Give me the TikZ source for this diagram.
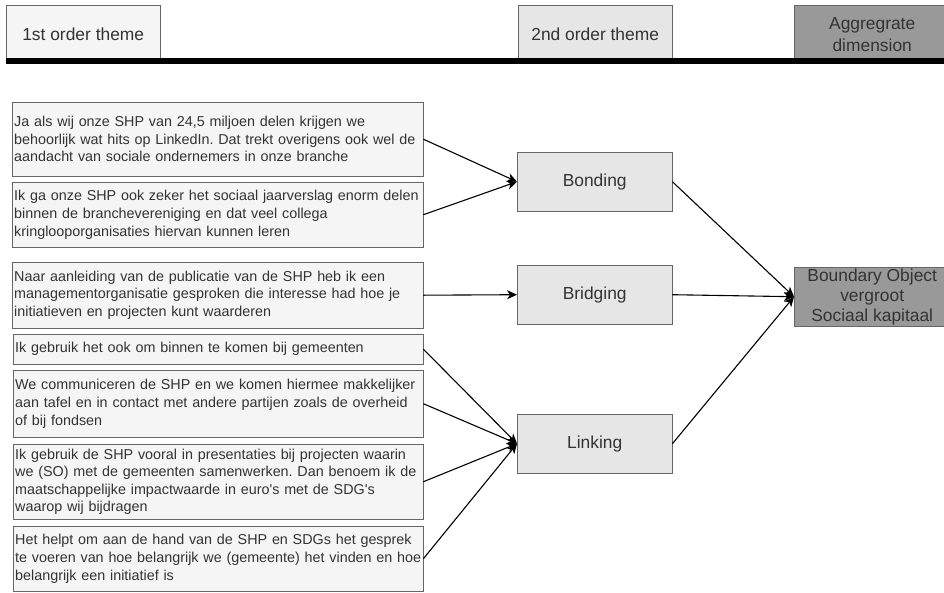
\documentclass[tikz,border=0pt]{standalone}
\usepackage{fontspec}
\setmainfont{Liberation Sans}
\usetikzlibrary{arrows.meta}
\frenchspacing
\definecolor{lightfill}{HTML}{F5F5F5}
\definecolor{midfill}{HTML}{E6E6E6}
\definecolor{darkfill}{HTML}{999999}
\definecolor{edgegray}{HTML}{666666}
\definecolor{inkgray}{HTML}{333333}
\begin{document}
\begin{tikzpicture}[x=1pt, y=-1pt,
  quote/.style={draw=edgegray, fill=lightfill, anchor=north west, text=inkgray,
    align=left, inner xsep=2.5pt, inner ysep=0pt,
    font=\fontsize{14.35}{17.6}\selectfont},
  header/.style={draw=edgegray, anchor=north west, inner sep=0pt, minimum height=53pt},
  headtext/.style={text=inkgray, align=center, yshift=-3pt,
    font=\fontsize{17.4}{21.5}\selectfont},
  theme/.style={draw=edgegray, fill=midfill, anchor=north west, text=inkgray,
    align=center, inner sep=0pt, minimum width=155pt, minimum height=59pt,
    font=\fontsize{17.4}{20}\selectfont},
  link/.style={black, line width=1.1pt, -{Stealth[length=10pt, width=9pt, inset=3pt]}}
]
\useasboundingbox (0,0) rectangle (944,592);

% column headers and the rule beneath them
\node[header, fill=lightfill, minimum width=154pt,
  label={[headtext]center:1st order theme}] (h1) at (6,5) {};
\node[header, fill=midfill, minimum width=154pt,
  label={[headtext]center:2nd order theme}] (h2) at (518,5) {};
\node[header, fill=darkfill, minimum width=156pt,
  label={[headtext]center:Aggregrate\\dimension}] (h3) at (794,5) {};
\fill[black] (6,58) rectangle (944,64);

% first order quotes
\node[quote, text width=406.5pt, minimum height=74pt] (q1) at (11.5,102)
  {\mbox{Ja als wij onze SHP van 24,5 miljoen delen krijgen we}\\
   \mbox{behoorlijk wat hits op LinkedIn. Dat trekt overigens ook wel de}\\
   \mbox{aandacht van sociale ondernemers in onze branche}};
\node[quote, text width=406.5pt, minimum height=65pt] (q2) at (11.5,182)
  {\mbox{Ik ga onze SHP ook zeker het sociaal jaarverslag enorm delen}\\
   \mbox{binnen de branchevereniging en dat veel collega}\\
   \mbox{kringlooporganisaties hiervan kunnen leren}};
\node[quote, text width=406.5pt, minimum height=66pt] (q3) at (11.5,262)
  {\mbox{Naar aanleiding van de publicatie van de SHP heb ik een}\\
   \mbox{managementorganisatie gesproken die interesse had hoe je}\\
   \mbox{initiatieven en projecten kunt waarderen}};
\node[quote, text width=405.5pt, minimum height=30pt] (q4) at (12.5,334)
  {\mbox{Ik gebruik het ook om binnen te komen bij gemeenten}};
\node[quote, text width=405.5pt, minimum height=67pt] (q5) at (12.5,370)
  {\mbox{We communiceren de SHP en we komen hiermee makkelijker}\\
   \mbox{aan tafel en in contact met andere partijen zoals de overheid}\\
   \mbox{of bij fondsen}};
\node[quote, text width=405.5pt, minimum height=75pt] (q6) at (12.5,444)
  {\mbox{Ik gebruik de SHP vooral in presentaties bij projecten waarin}\\
   \mbox{we (SO) met de gemeenten samenwerken. Dan benoem ik de}\\
   \mbox{maatschappelijke impactwaarde in euro\textquotesingle s met de SDG\textquotesingle s}\\
   \mbox{waarop wij bijdragen}};
\node[quote, text width=405.5pt, minimum height=65pt] (q7) at (12.5,526)
  {\mbox{Het helpt om aan de hand van de SHP en SDGs het gesprek}\\
   \mbox{te voeren van hoe belangrijk we (gemeente) het vinden en hoe}\\
   \mbox{belangrijk een initiatief is}};

% second order themes
\node[theme] (bond) at (517,152) {Bonding};
\node[theme] (bridge) at (517,265) {Bridging};
\node[theme] (linking) at (517,414) {Linking};

% aggregate dimension
\node[theme, fill=darkfill, minimum width=156pt] (agg) at (794,267)
  {Boundary Object\\vergroot\\Sociaal kapitaal};

% connectors
\draw[link] (q1.east) -- (bond.west);
\draw[link] (q2.east) -- (bond.west);
\draw[link] (q3.east) -- (bridge.west);
\draw[link] (q4.east) -- (linking.west);
\draw[link] (q5.east) -- (linking.west);
\draw[link] (q6.east) -- (linking.west);
\draw[link] (q7.east) -- (linking.west);
\draw[link] (bond.east) -- (agg.west);
\draw[link] (bridge.east) -- (agg.west);
\draw[link] (linking.east) -- (agg.west);
\end{tikzpicture}
\end{document}
